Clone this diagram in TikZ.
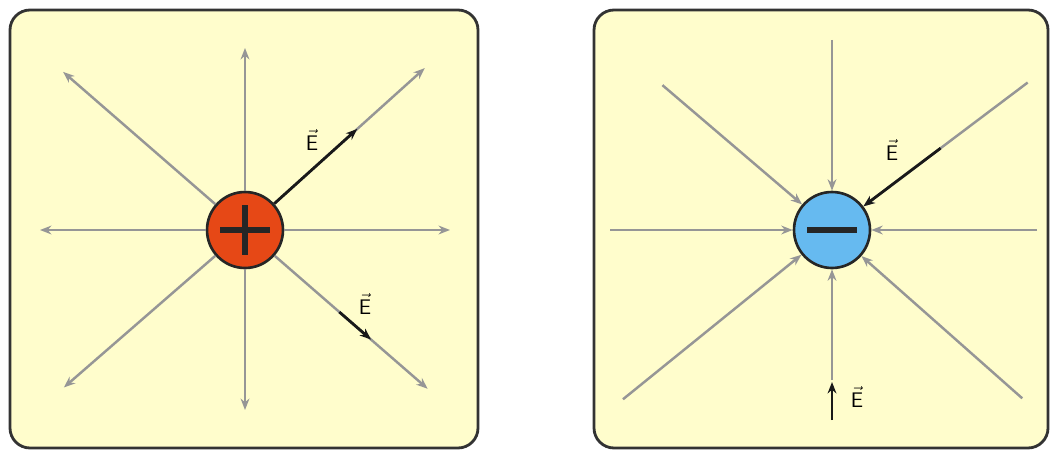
\documentclass[tikz,border=0pt]{standalone}
\usepackage{amsmath}
\usepackage{tikz}
\usetikzlibrary{arrows.meta,positioning}
\definecolor{panelbg}{RGB}{255,253,204}
\definecolor{fieldgray}{RGB}{150,150,150}
\definecolor{posred}{RGB}{230,72,22}
\definecolor{negblue}{RGB}{102,186,240}
\begin{document}
\begin{tikzpicture}[x=0.02cm,y=0.02cm,font=\large,
  panel/.style={draw=black!80,line width=1.6pt,fill=panelbg,rounded corners=0.4cm},
  field/.style={-{Stealth[length=6.5pt,width=5pt]},fieldgray,line width=1.4pt},
  efield/.style={-{Stealth[length=6.5pt,width=5pt]},black!90,line width=1.6pt},
  charge/.style={circle,draw=black!85,line width=1.5pt,minimum size=1.52cm,inner sep=0pt},
  sign/.style={line width=3.6pt,black!85}]
\useasboundingbox (0,0) rectangle (1053,450);
% panels
\draw[panel] (10,2) rectangle (478,440);
\draw[panel] (594,2) rectangle (1048,440);
% positive charge, field pointing out
\coordinate (pc) at (245,220);
\foreach \a/\r [count=\i] in {0/205,180/205,90/182,270/180,42/242,139/241,221/240,319/242}
  \path (pc) ++(\a:\r) coordinate (p\i);
\node[charge,fill=posred] (pos) at (pc) {};
\foreach \i in {1,...,8} \draw[field] (pos) -- (p\i);
\path (pc) ++(42:151) coordinate (e1);
\draw[efield] (pos) -- (e1);
\path (pc) ++(319:125) coordinate (e2a) ++(319:42) coordinate (e2b);
\draw[efield] (e2a) -- (e2b);
\draw[sign] ([xshift=-0.5cm]pos.center) -- ([xshift=0.5cm]pos.center);
\draw[sign] ([yshift=-0.5cm]pos.center) -- ([yshift=0.5cm]pos.center);
\node (l1) at (312,310) {$\vec{\mathsf{E}}$};
\node (l2) at (365,146) {$\vec{\mathsf{E}}$};
% negative charge, field pointing in
\coordinate (nc) at (832,220);
\foreach \a/\r [count=\i] in {0/205,180/222,90/190,270/150,37/245,139.5/223,219/269,318.5/254}
  \path (nc) ++(\a:\r) coordinate (n\i);
\node[charge,fill=negblue] (neg) at (nc) {};
\foreach \i in {1,...,8} \draw[field] (n\i) -- (neg);
\path (nc) ++(37:136) coordinate (e3);
\draw[efield] (e3) -- (neg);
\path (nc) ++(270:190) coordinate (e4a) ++(90:38) coordinate (e4b);
\draw[efield] (e4a) -- (e4b);
\draw[sign] ([xshift=-0.5cm]neg.center) -- ([xshift=0.5cm]neg.center);
\node (l3) at (892,300) {$\vec{\mathsf{E}}$};
\node (l4) at (857,53) {$\vec{\mathsf{E}}$};
\end{tikzpicture}
\end{document}
